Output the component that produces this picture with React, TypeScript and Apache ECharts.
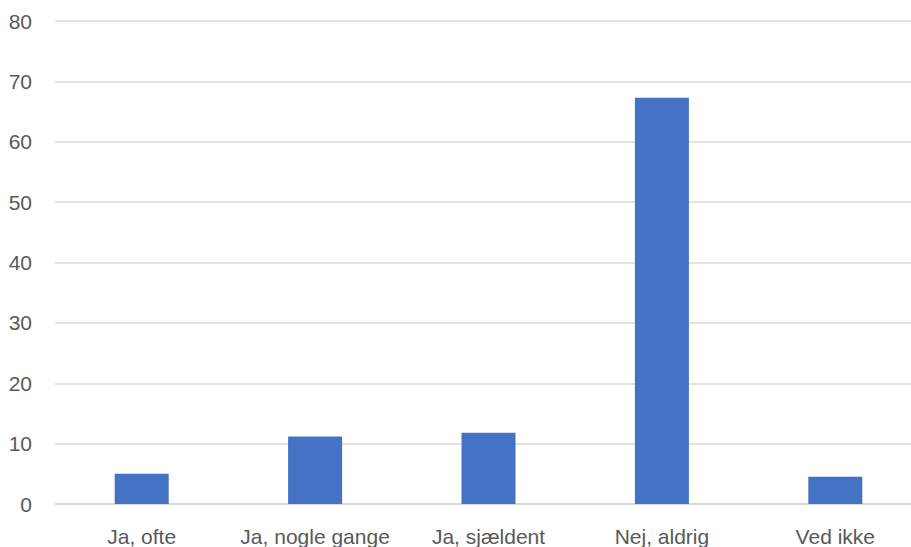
import React, { useEffect, useRef } from "react";
import * as echarts from "echarts";

const categories = ["Ja, ofte", "Ja, nogle gange", "Ja, sjældent", "Nej, aldrig", "Ved ikke"];
const values = [5.0, 11.2, 11.8, 67.3, 4.5];
const yMin = 0;
const yMax = 80;
const yInterval = 10;

export default function App() {
  const ref = useRef<HTMLDivElement>(null);
  useEffect(() => {
    if (!ref.current) return;
    const chart = echarts.init(ref.current, null, { renderer: "svg" });
    chart.setOption({
      animation: false,
      backgroundColor: "#ffffff",
      grid: { left: 55, right: 0, top: 21, bottom: 41, containLabel: false },
      xAxis: {
        type: "category",
        data: categories,
        axisLine: { show: true, lineStyle: { color: "#d9d9d9", width: 1.5 } },
        axisTick: { show: false },
        axisLabel: {
          color: "#595959",
          fontFamily: "Liberation Sans",
          fontSize: 21,
          margin: 22,
          interval: 0,
        },
      },
      yAxis: {
        type: "value",
        min: yMin,
        max: yMax,
        interval: yInterval,
        axisLine: { show: false },
        axisTick: { show: false },
        splitLine: { show: true, lineStyle: { color: "#d9d9d9", width: 1.5 } },
        axisLabel: {
          color: "#595959",
          fontFamily: "Liberation Sans",
          fontSize: 21,
          margin: 23,
        },
      },
      series: [
        {
          type: "bar",
          data: values,
          barWidth: 54,
          itemStyle: { color: "#4472c4" },
        },
      ],
    });
    return () => chart.dispose();
  }, []);
  return (
    <div style={{ position: "fixed", left: 0, top: 0, width: 911, height: 547, overflow: "hidden", background: "#fff" }}>
      <div ref={ref} style={{ width: 922, height: 547 }} />
    </div>
  );
}
